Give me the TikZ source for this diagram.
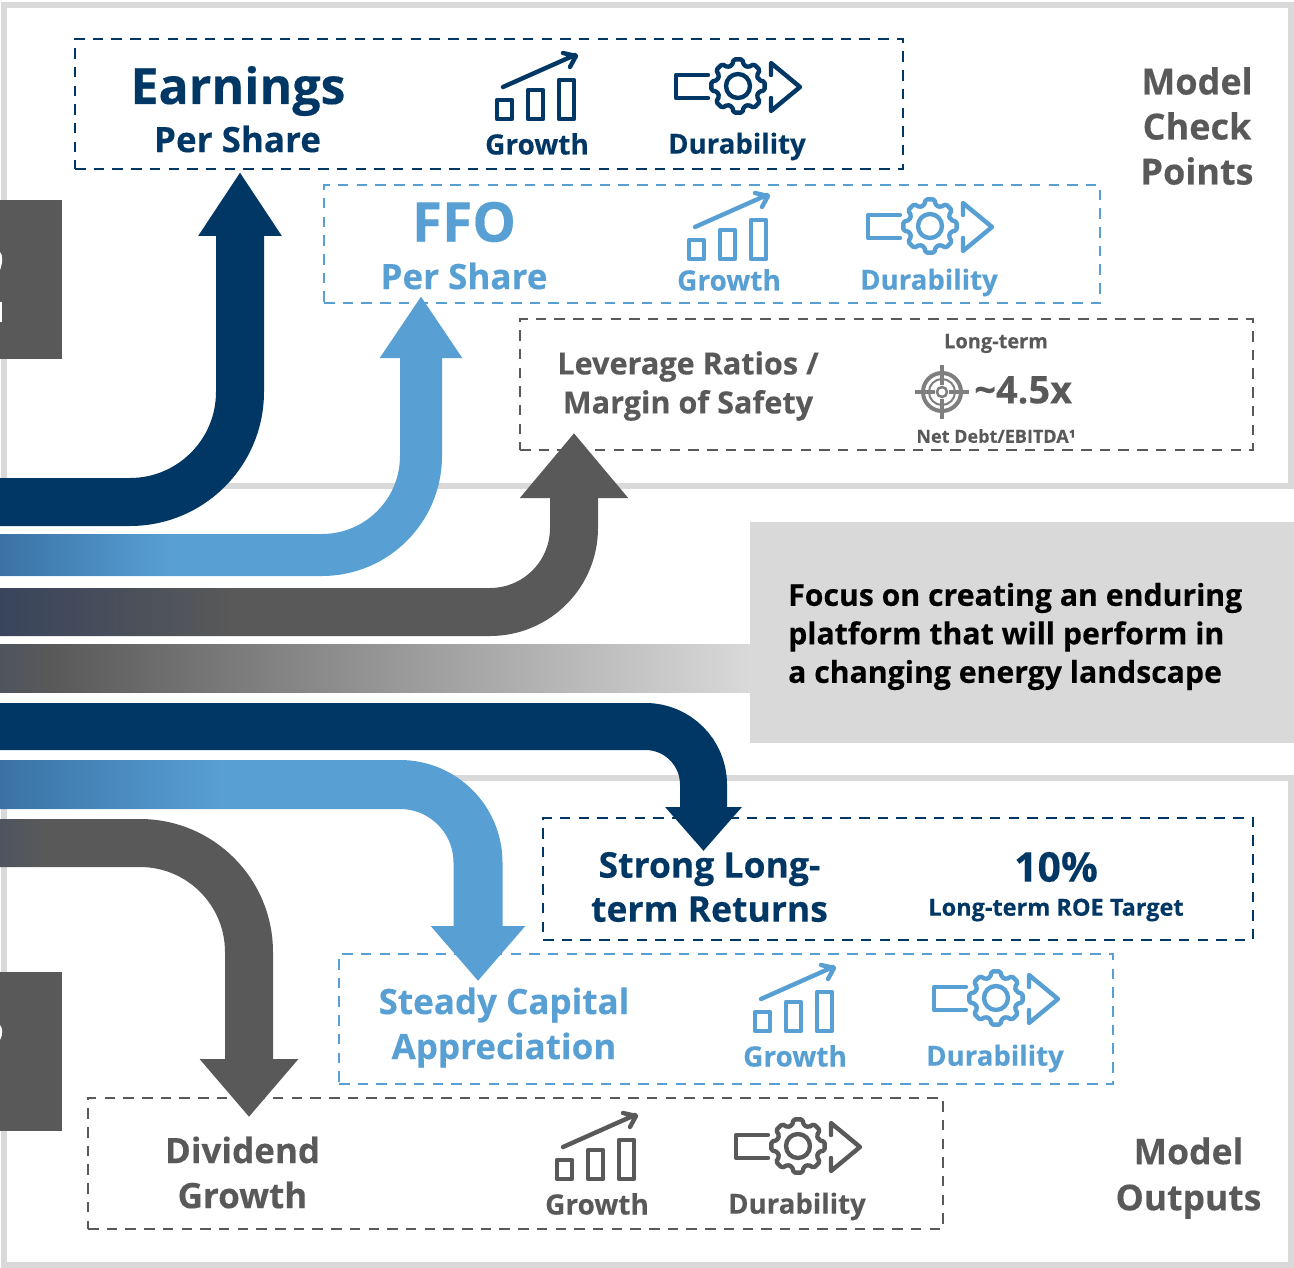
\documentclass[tikz,border=0pt]{standalone}
\usepackage{fontspec}
\setmainfont{Open Sans}[BoldFeatures={FakeBold=0.3}]
\usetikzlibrary{arrows.meta}
\definecolor{navy}{HTML}{003764}
\definecolor{sky}{HTML}{589FD4}
\definecolor{skydark}{HTML}{3A72A5}
\definecolor{slate}{HTML}{595959}
\definecolor{slateblue}{HTML}{39455C}
\definecolor{slatemid}{HTML}{4F545F}
\definecolor{pale}{HTML}{D9D9D9}
\definecolor{tgt}{HTML}{7F7F7F}
\tikzset{
  x=1pt,y=-1pt,
  panel/.style={draw=pale,line width=5.5pt,inner sep=0pt,outer sep=0pt},
  dbox/.style={draw=#1,line width=2.5pt,inner sep=0pt,outer sep=0pt,dash pattern=on 10.5pt off 8.2pt},
  band/.style n args={3}{draw=#1,line width=#2pt,rounded corners=#3pt},
  txt/.style n args={3}{text=#1,font=\fontsize{#2}{#3}\selectfont\bfseries,align=center,inner sep=0pt},
  growthicon/.pic={
    \begin{scope}[line width=4.4pt,line join=round,line cap=round]
    \draw (2,-20) rectangle (17,-1);
    \draw (33,-30) rectangle (48,-1);
    \draw (64,-40) rectangle (79,-1);
    \draw (8,-33) -- (80,-65) (68,-67) -- (81,-64) -- (75,-53);
    \end{scope}
  },
  durabicon/.pic={
    \begin{scope}[line width=4.4pt,line join=round,line cap=round]
    \draw (-30,-11) -- (-62,-11) -- (-62,12) -- (-30,12);
    \draw[rounded corners=1.5pt] (-16:21.5)
      \foreach \a in {0,45,...,315}{ -- ({\a-16}:21.5) -- ({\a-9}:27) -- ({\a+9}:27) -- ({\a+16}:21.5) } -- cycle;
    \draw (0,0) circle (12);
    \draw (33,-11) -- (33,-23) -- (62,1) -- (33,25) -- (33,12);
    \end{scope}
  },
  targeticon/.pic={
    \begin{scope}[tgt]
    \draw[line width=4pt] (0,0) circle (19);
    \draw[line width=2pt] (0,0) circle (13);
    \draw[line width=2.5pt] (0,0) circle (5);
    \draw[line width=3.5pt] (-27,0) -- (-7,0) (7,0) -- (27,0) (0,-27) -- (0,-7) (0,7) -- (0,27);
    \end{scope}
  }
}
\newcommand{\boxnode}[6]{\node[#6,minimum width={(#4-#2)*1pt},minimum height={(#5-#3)*1pt}] (#1) at ({(#2+#4)/2},{(#3+#5)/2}) {};}
\begin{document}
\begin{tikzpicture}
\useasboundingbox (0,0) rectangle (1294,1268);
\clip (0,0) rectangle (1294,1268);
% panels
\boxnode{checkpanel}{4}{5}{1291}{486}{panel}
\boxnode{outputpanel}{4}{778}{1291}{1265}{panel}
\node[fill=pale,inner sep=0pt,minimum width=544pt,minimum height=221pt] (focus) at (1022,632.5) {};
% dashed boxes
\boxnode{eps}{75}{39}{903}{169}{dbox=navy}
\boxnode{ffo}{324}{185}{1100}{303}{dbox=sky}
\boxnode{lev}{520}{319}{1253}{450}{dbox=slate}
\boxnode{roe}{543}{818}{1253}{940}{dbox=navy}
\boxnode{cap}{339}{954}{1113}{1084}{dbox=sky}
\boxnode{div}{88}{1098}{943}{1229}{dbox=slate}
% side blocks
\node[fill=slate,inner sep=0pt,minimum width=62pt,minimum height=159pt] (sideA) at (31,279.5) {};
\node[fill=slate,inner sep=0pt,minimum width=62pt,minimum height=159pt] (sideB) at (31,1051.5) {};
\fill[white] (0,252) .. controls (3,255) and (3,262) .. (0,270) -- cycle;
\fill[white] (0,302) -- (2,302) -- (2,322) -- (0,322) -- cycle;
\fill[white] (0,1025) .. controls (3,1028) and (3,1035) .. (0,1040) -- cycle;
% arrow ends
\coordinate (a1) at (0,502);   \coordinate (a1t) at (240,172);
\coordinate (a2) at (0,555);   \coordinate (a2t) at (421,296);
\coordinate (a3) at (0,612);   \coordinate (a3t) at (574,433);
\coordinate (b1) at (0,726.5); \coordinate (b1t) at (703.5,851);
\coordinate (b2) at (0,784.5); \coordinate (b2t) at (478,981);
\coordinate (b3) at (0,843);   \coordinate (b3t) at (249,1117);
% arrows
\draw[band={navy}{48}{110},-{Triangle[width=79pt,length=64pt]}] (a1) -| (a1t);
\draw[band={sky}{42}{99},-{Triangle[width=78pt,length=62pt]}] (a2) -| (a2t);
\draw[band={slate}{48}{84},-{Triangle[width=104pt,length=65pt]}] (a3) -| (a3t);
\draw[band={navy}{47}{58},-{Triangle[width=74pt,length=44pt]}] (b1) -| (b1t);
\draw[band={sky}{49}{78},-{Triangle[width=91pt,length=55pt]}] (b2) -| (b2t);
\draw[band={slate}{48}{109},-{Triangle[width=95pt,length=58pt]}] (b3) -| (b3t);
% band gradients
\shade[left color=slatemid,right color=slate] (0,644) rectangle (50,692);
\shade[left color=slate,right color=pale] (50,644) rectangle (750,692);
\shade[left color=skydark,right color=sky] (0,534.4) rectangle (170,575.6);
\shade[left color=slateblue,right color=slate] (0,588.4) rectangle (235,635.6);
\shade[left color=skydark,right color=sky] (0,760.4) rectangle (220,808.6);
\shade[left color=slatemid,right color=slate] (0,819.4) rectangle (45,866.6);
% icons
\pic[color=navy] at (495,120) {growthicon};
\pic[color=navy] at (738,86) {durabicon};
\pic[color=sky] at (687,260) {growthicon};
\pic[color=sky] at (930,226) {durabicon};
\pic[color=sky] at (753,1032) {growthicon};
\pic[color=sky] at (996,998) {durabicon};
\pic[color=slate] at (555,1180) {growthicon};
\pic[color=slate] at (798,1146) {durabicon};
\pic at (942,392) {targeticon};
% text
\node[txt={navy}{50}{56}] (t1) at (238,91) {Earnings};
\node[txt={navy}{35}{40}] (t2) at (237.5,139) {Per Share};
\node[txt={navy}{28}{30}] (t3) at (537,144) {Growth};
\node[txt={navy}{27.6}{30}] (t4) at (737,146.5) {Durability};
\node[txt={slate}{36}{45}] (t5) at (1197,126) {Model\\Check\\Points};
\node[txt={sky}{55}{56}] (t6) at (464,222) {FFO};
\node[txt={sky}{35}{40}] (t7) at (464,276) {Per Share};
\node[txt={sky}{28}{30}] (t8) at (729,280) {Growth};
\node[txt={sky}{27.6}{30}] (t9) at (929,282.5) {Durability};
\node[txt={slate}{30.6}{39}] (t10) at (688,386) {Leverage Ratios /\\Margin of Safety};
\node[txt={slate}{20}{24}] (t11) at (996,343.5) {Long-term};
\node[txt={slate}{38}{40},anchor=west] (t12) at (974,390) {\textasciitilde4.5x};
\node[txt={slate}{18}{22}] (t13) at (996,436) {Net Debt/EBITDA¹};
\node[txt={black}{30.2}{38.5},align=left,anchor=west] (t14) at (788,636.5) {Focus on creating an enduring\\platform that will perform in\\a changing energy landscape};
\node[txt={navy}{35.5}{44}] (t15) at (709.5,887) {Strong Long-\\term Returns};
\node[txt={navy}{41}{46}] (t16) at (1056,867) {10\%};
\node[txt={navy}{23.5}{26}] (t17) at (1056,910) {Long-term ROE Target};
\node[txt={sky}{35}{45}] (t18) at (504,1027.5) {Steady Capital\\Appreciation};
\node[txt={sky}{28}{30}] (t19) at (795,1056) {Growth};
\node[txt={sky}{27.6}{30}] (t20) at (995,1058.5) {Durability};
\node[txt={slate}{35}{45}] (t21) at (242.5,1172.5) {Dividend\\Growth};
\node[txt={slate}{28}{30}] (t22) at (597,1204) {Growth};
\node[txt={slate}{27.6}{30}] (t23) at (797,1206.5) {Durability};
\node[txt={slate}{35.5}{46}] (t24) at (1188.5,1178) {Model\\Outputs};
\end{tikzpicture}
\end{document}
